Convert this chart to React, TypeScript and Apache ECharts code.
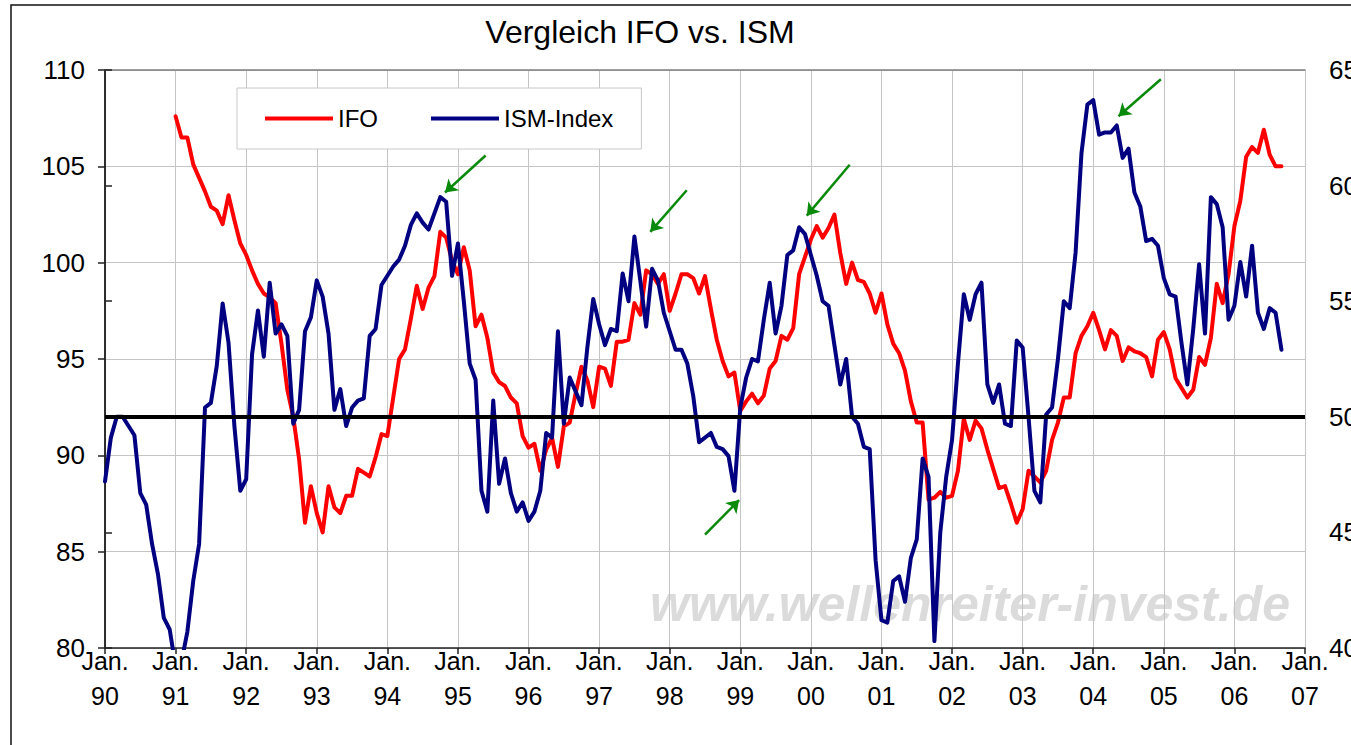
import React, { useEffect, useRef } from "react";
import * as echarts from "echarts";

// Month index 0 = Jan 1990
const yearLabels = ["90", "91", "92", "93", "94", "95", "96", "97", "98", "99", "00", "01", "02", "03", "04", "05", "06", "07"];

// ISM-Index, monthly from Jan 1990 (right axis)
const ismValues = [
  47.2, 49.1, 50.0, 50.0, 49.6, 49.2, 46.7, 46.2, 44.5, 43.2, 41.3, 40.8,
  39.2, 39.4, 40.7, 42.9, 44.5, 50.4, 50.6, 52.2, 54.9, 53.2, 49.6, 46.8,
  47.3, 52.7, 54.6, 52.6, 55.8, 53.6, 54.0, 53.5, 49.7, 50.3, 53.7, 54.3,
  55.9, 55.2, 53.6, 50.3, 51.2, 49.6, 50.4, 50.7, 50.8, 53.5, 53.8, 55.7,
  56.1, 56.5, 56.8, 57.4, 58.3, 58.8, 58.4, 58.1, 58.8, 59.5, 59.3, 56.1,
  57.5, 55.0, 52.3, 51.6, 46.8, 45.9, 50.7, 47.1, 48.2, 46.7, 45.9, 46.3,
  45.5, 45.9, 46.8, 49.3, 49.1, 53.7, 49.7, 51.7, 51.1, 50.5, 53.0, 55.1,
  54.0, 53.1, 53.8, 53.7, 56.2, 55.0, 57.8, 55.9, 53.9, 56.4, 55.9, 54.5,
  53.7, 52.9, 52.9, 52.3, 50.9, 48.9, 49.1, 49.3, 48.7, 48.6, 48.3, 46.8,
  50.4, 51.7, 52.5, 52.4, 54.2, 55.8, 53.6, 54.8, 57.0, 57.2, 58.2, 57.9,
  57.0, 56.1, 55.0, 54.8, 53.1, 51.4, 52.5, 50.0, 49.7, 48.7, 48.6, 43.8,
  41.2, 41.1, 42.9, 43.1, 42.0, 43.9, 44.7, 48.2, 47.4, 40.3, 45.0, 47.4,
  49.0, 52.3, 55.3, 54.2, 55.3, 55.8, 51.4, 50.6, 51.4, 49.7, 49.6, 53.3,
  53.0, 50.0, 46.8, 46.3, 50.1, 50.4, 52.5, 55.0, 54.7, 57.1, 61.4, 63.5,
  63.7, 62.2, 62.3, 62.3, 62.6, 61.2, 61.6, 59.7, 59.1, 57.6, 57.7, 57.4,
  56.0, 55.3, 55.2, 53.2, 51.4, 53.8, 56.6, 53.6, 59.5, 59.2, 58.2, 54.2,
  54.8, 56.7, 55.2, 57.4, 54.5, 53.8, 54.7, 54.5, 52.9,
];

// IFO, monthly from Jan 1991 (left axis)
const ifoStartMonth = 12;
const ifoValues = [
  107.6, 106.5, 106.5, 105.1, 104.4, 103.7, 102.9, 102.7, 102.0, 103.5, 102.2, 101.0,
  100.4, 99.6, 98.9, 98.4, 98.2, 97.9, 95.8, 93.4, 92.0, 89.8, 86.5, 88.4,
  87.0, 86.0, 88.4, 87.3, 87.0, 87.9, 87.9, 89.3, 89.1, 88.9, 89.9, 91.1,
  91.0, 93.0, 95.0, 95.5, 97.1, 98.8, 97.6, 98.7, 99.3, 101.6, 101.3, 100.1,
  99.4, 100.8, 99.6, 96.7, 97.3, 96.1, 94.3, 93.8, 93.6, 93.0, 92.7, 91.0,
  90.4, 90.6, 89.2, 90.3, 90.9, 89.4, 91.5, 91.7, 93.2, 94.6, 93.9, 92.5,
  94.6, 94.5, 93.6, 95.9, 95.9, 96.0, 97.9, 97.3, 99.6, 99.4, 98.9, 99.4,
  97.5, 98.4, 99.4, 99.4, 99.2, 98.4, 99.3, 97.6, 96.0, 94.9, 94.1, 94.3,
  92.3, 92.8, 93.2, 92.7, 93.1, 94.5, 94.9, 96.2, 96.0, 96.6, 99.4, 100.3,
  101.2, 101.9, 101.3, 101.8, 102.5, 100.5, 98.9, 100.0, 99.1, 99.0, 98.4, 97.4,
  98.4, 96.8, 95.8, 95.3, 94.4, 92.8, 91.7, 91.7, 87.7, 87.8, 88.1, 87.8,
  87.9, 89.2, 91.9, 90.8, 91.8, 91.4, 90.3, 89.3, 88.3, 88.4, 87.5, 86.5,
  87.2, 89.2, 88.9, 88.6, 89.2, 90.8, 91.7, 93.0, 93.0, 95.3, 96.2, 96.7,
  97.4, 96.5, 95.5, 96.5, 96.2, 94.9, 95.6, 95.4, 95.3, 95.1, 94.1, 96.0,
  96.4, 95.5, 94.0, 93.5, 93.0, 93.4, 95.1, 94.7, 96.1, 98.9, 97.9, 99.4,
  101.9, 103.2, 105.5, 106.0, 105.7, 106.9, 105.6, 105.0, 105.0,
];

// Green arrows in (month index, ISM value): [start, tip]
const arrowStarts = [[64.7, 61.3], [98.9, 59.8], [126.6, 60.9], [179.5, 64.6], [102.0, 44.9]];
const arrowTips = [[57.8, 59.7], [92.7, 58.0], [119.3, 58.7], [172.3, 63.0], [107.8, 46.4]];

const ismThreshold = 50;

const FONT = '"Liberation Sans", Arial, sans-serif';

export default function App() {
  const ref = useRef<HTMLDivElement>(null);

  useEffect(() => {
    if (!ref.current) return;
    const chart = echarts.init(ref.current, undefined, { renderer: "svg" });

    const ismData = ismValues.map((v, i) => [i, v]);
    const ifoData = ifoValues.map((v, i) => [i + ifoStartMonth, v]);

    const arrowLines = arrowStarts.map((s, i) => [{ coord: s }, { coord: arrowTips[i] }]);

    const option: any = {
      animation: false,
      backgroundColor: "#ffffff",
      textStyle: { fontFamily: FONT },
      grid: { left: 105, right: 46, top: 70, bottom: 97, show: false, outerBoundsMode: "none", containLabel: false },
      legend: {
        left: 237,
        top: 88,
        data: ["IFO", "ISM-Index"],
        icon: "rect",
        itemWidth: 68,
        itemHeight: 4,
        itemGap: 53,
        borderColor: "#c8c8c8",
        borderWidth: 1,
        backgroundColor: "#ffffff",
        padding: [17, 28, 17, 28],
        selectedMode: false,
        textStyle: { fontSize: 24, color: "#000", fontFamily: FONT, lineHeight: 27 },
      },
      xAxis: [
        {
          type: "value",
          min: 0,
          max: 204,
          interval: 12,
          axisLine: { show: true, lineStyle: { color: "#222", width: 1.5 } },
          axisTick: { show: true, length: 6, lineStyle: { color: "#222", width: 1.5 } },
          splitLine: { show: true, lineStyle: { color: "#c4c4c4", width: 1 } },
          axisLabel: {
            formatter: (v: number) => "Jan.\n" + yearLabels[Math.round(v / 12)],
            fontSize: 25,
            lineHeight: 35,
            color: "#000",
            margin: -5,
            fontFamily: FONT,
          },
        },
        {
          type: "value",
          position: "top",
          min: 0,
          max: 204,
          axisLine: { show: true, lineStyle: { color: "#7f7f7f", width: 1.5 } },
          axisTick: { show: false },
          axisLabel: { show: false },
          splitLine: { show: false },
        },
      ],
      yAxis: [
        {
          type: "value",
          min: 80,
          max: 110,
          interval: 5,
          axisLine: { show: true, lineStyle: { color: "#222", width: 1.5 } },
          axisTick: { show: true, length: 7, lineStyle: { color: "#222", width: 1.5 } },
          splitLine: { show: true, lineStyle: { color: "#c4c4c4", width: 1 } },
          axisLabel: { fontSize: 26, color: "#000", margin: 20, fontFamily: FONT },
        },
        {
          type: "value",
          min: 40,
          max: 65,
          interval: 5,
          position: "right",
          offset: 4,
          axisLine: { show: true, lineStyle: { color: "#222", width: 1.5 } },
          axisTick: { show: true, length: 7, lineStyle: { color: "#222", width: 1.5 } },
          splitLine: { show: false },
          axisLabel: { fontSize: 26, color: "#000", margin: 20, fontFamily: FONT },
        },
      ],
      series: [
        {
          name: "IFO",
          type: "line",
          xAxisIndex: 0,
          yAxisIndex: 0,
          data: ifoData,
          symbol: "none",
          clip: true,
          lineStyle: { color: "#ff0000", width: 4, cap: "round", join: "round" },
          itemStyle: { color: "#ff0000" },
          z: 3,
        },
        {
          name: "ISM-Index",
          type: "line",
          xAxisIndex: 0,
          yAxisIndex: 1,
          data: ismData,
          symbol: "none",
          clip: true,
          lineStyle: { color: "#000080", width: 4, cap: "round", join: "round" },
          itemStyle: { color: "#000080" },
          z: 4,
          markLine: {
            silent: true,
            animation: false,
            symbol: ["none", "arrow"],
            symbolSize: 12,
            label: { show: false },
            emphasis: { disabled: true },
            lineStyle: { color: "#0a8a0a", width: 2.5, type: "solid" },
            data: arrowLines,
          },
        },
        {
          name: "threshold",
          type: "line",
          xAxisIndex: 0,
          yAxisIndex: 1,
          data: [],
          symbol: "none",
          markLine: {
            silent: true,
            animation: false,
            symbol: ["none", "none"],
            label: { show: false },
            emphasis: { disabled: true },
            lineStyle: { color: "#000", width: 4, type: "solid" },
            data: [{ yAxis: ismThreshold }],
          },
        },
      ],
      graphic: [
        {
          type: "rect",
          shape: { x: 11, y: 5, width: 1420, height: 800 },
          style: { fill: "none", stroke: "#111", lineWidth: 1.5 },
          z: 0,
          silent: true,
        },
        {
          type: "text",
          x: 640,
          y: 32,
          style: {
            text: "Vergleich IFO vs. ISM",
            fontSize: 32,
            fontFamily: FONT,
            fill: "#000",
            align: "center",
            verticalAlign: "middle",
            textAlign: "center",
            textVerticalAlign: "middle",
          },
          silent: true,
        },
        {
          type: "text",
          x: 650,
          y: 604,
          z: 0,
          style: {
            text: "www.wellenreiter-invest.de",
            fontSize: 50,
            fontWeight: "bold",
            fontStyle: "italic",
            fontFamily: FONT,
            fill: "#d2d2d2",
            opacity: 0.8,
            align: "left",
            verticalAlign: "middle",
            textAlign: "left",
            textVerticalAlign: "middle",
          },
          silent: true,
        },
      ],
    };

    chart.setOption(option);
    return () => chart.dispose();
  }, []);

  return (
    <div
      ref={ref}
      style={{ position: "absolute", left: 0, top: 0, width: 1351, height: 745 }}
    />
  );
}
